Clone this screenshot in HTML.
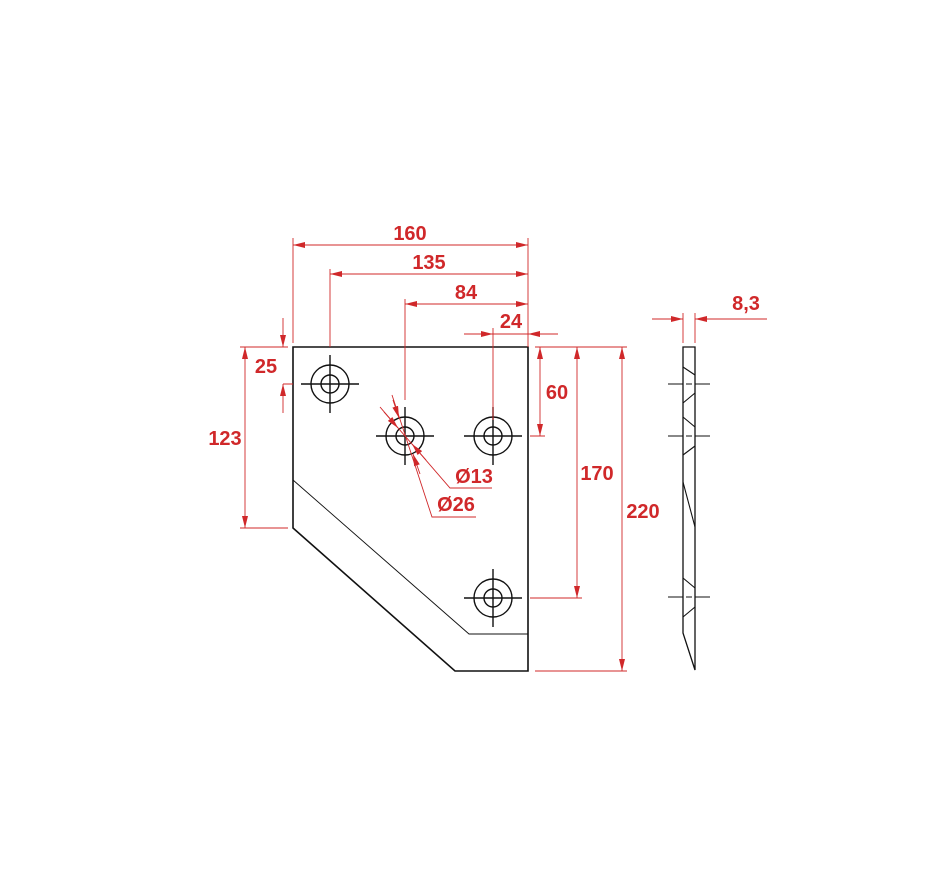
<!DOCTYPE html>
<html><head><style>
html,body{margin:0;padding:0;background:#fff;}
svg{display:block;}
text{font-family:"Liberation Sans",sans-serif;font-size:20px;fill:#d0282a;font-weight:bold;}
</style></head><body>
<svg width="950" height="871" viewBox="0 0 950 871">
<defs>
<marker id="a" viewBox="0 0 12 6" refX="12" refY="3" markerWidth="12" markerHeight="6" orient="auto" markerUnits="userSpaceOnUse"><path d="M0,0 L12,3 L0,6 z" fill="#d0282a"/></marker>
<marker id="as" viewBox="0 0 12 6" refX="12" refY="3" markerWidth="12" markerHeight="6" orient="auto-start-reverse" markerUnits="userSpaceOnUse"><path d="M0,0 L12,3 L0,6 z" fill="#d0282a"/></marker>
</defs>
<g stroke="#111" fill="none">
<path d="M293,347 L528,347 L528,671 L455,671 L293,528 Z" stroke-width="1.6"/>
<path d="M293,480 L469,634 L528,634" stroke-width="0.9"/>
<path d="M683,347 L695,347 L695,670 L683,633 Z" stroke-width="1.3"/>
<g stroke-width="1.1">
<path d="M683,367 L695,375 M695,393 L683,403 M683,417 L695,427 M695,446 L683,455 M683,482 L695,527 M683,578 L695,588 M695,607 L683,617"/>
<path d="M668,384 H683 M695,384 H710 M686,384 H692 M668,436 H683 M695,436 H710 M686,436 H692 M668,597 H683 M695,597 H710 M686,597 H692"/>
</g>
</g>
<g stroke="#111" fill="none" stroke-width="1.4">
<g transform="translate(330,384)"><circle r="19"/><circle r="9"/><path d="M-29,0 H29 M0,-29 V29"/></g>
<g transform="translate(405,436)"><circle r="19"/><circle r="9"/><path d="M-29,0 H29 M0,-29 V29"/></g>
<g transform="translate(493,436)"><circle r="19"/><circle r="9"/><path d="M-29,0 H29 M0,-29 V29"/></g>
<g transform="translate(493,598)"><circle r="19"/><circle r="9"/><path d="M-29,0 H29 M0,-29 V29"/></g>
</g>
<g stroke="#d0282a" stroke-width="0.9" fill="none">
<path d="M293,238 V343 M528,238 V347 M330,269 V347 M405,299 V400 M493,328 V420"/>
<line x1="293" y1="245" x2="528" y2="245" marker-start="url(#as)" marker-end="url(#a)"/>
<line x1="330" y1="274" x2="528" y2="274" marker-start="url(#as)" marker-end="url(#a)"/>
<line x1="405" y1="304" x2="528" y2="304" marker-start="url(#as)" marker-end="url(#a)"/>
<line x1="464" y1="334" x2="493" y2="334" marker-end="url(#a)"/>
<line x1="558" y1="334" x2="528" y2="334" marker-end="url(#a)"/>
<line x1="493" y1="334" x2="528" y2="334"/>
<path d="M240,347 H288 M283,384 H293 M240,528 H288"/>
<line x1="283" y1="318" x2="283" y2="347" marker-end="url(#a)"/>
<line x1="283" y1="413" x2="283" y2="384" marker-end="url(#a)"/>
<line x1="245" y1="347" x2="245" y2="528" marker-start="url(#as)" marker-end="url(#a)"/>
<path d="M535,347 H627 M530,436 H545 M530,598 H582 M535,671 H627"/>
<line x1="540" y1="347" x2="540" y2="436" marker-start="url(#as)" marker-end="url(#a)"/>
<line x1="577" y1="347" x2="577" y2="598" marker-start="url(#as)" marker-end="url(#a)"/>
<line x1="622" y1="347" x2="622" y2="671" marker-start="url(#as)" marker-end="url(#a)"/>
<path d="M380,407 L450,488 H492"/>
<path d="M392,395 L432,517 H476"/>
<line x1="384" y1="412" x2="398" y2="428" marker-end="url(#a)"/>
<line x1="426" y1="460" x2="412" y2="444" marker-end="url(#a)"/>
<line x1="393" y1="400" x2="399" y2="418" marker-end="url(#a)"/>
<line x1="420" y1="474" x2="413" y2="454" marker-end="url(#a)"/>
<path d="M683,313 V343 M695,313 V343"/>
<line x1="652" y1="319" x2="683" y2="319" marker-end="url(#a)"/>
<line x1="767" y1="319" x2="695" y2="319" marker-end="url(#a)"/>
</g>
<g>
<text x="410" y="240" text-anchor="middle">160</text>
<text x="429" y="269" text-anchor="middle">135</text>
<text x="466" y="299" text-anchor="middle">84</text>
<text x="511" y="328" text-anchor="middle">24</text>
<text x="266" y="373" text-anchor="middle">25</text>
<text x="225" y="445" text-anchor="middle">123</text>
<text x="557" y="399" text-anchor="middle">60</text>
<text x="597" y="480" text-anchor="middle">170</text>
<text x="643" y="518" text-anchor="middle">220</text>
<text x="474" y="483" text-anchor="middle">Ø13</text>
<text x="456" y="511" text-anchor="middle">Ø26</text>
<text x="746" y="310" text-anchor="middle">8,3</text>
</g>
</svg>
</body></html>
